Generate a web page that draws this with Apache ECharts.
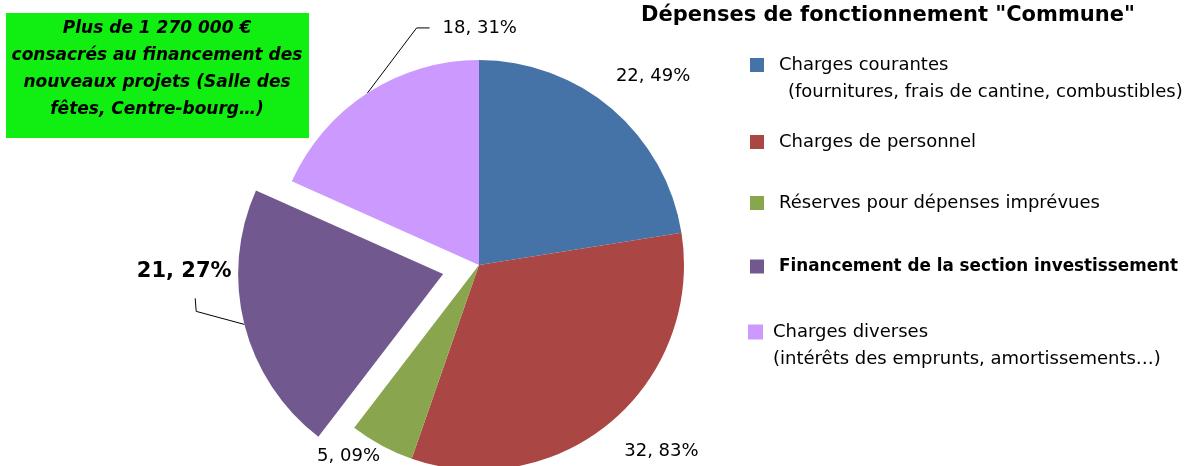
<!DOCTYPE html>
<html>
<head>
<meta charset="utf-8">
<script src="https://cdn.jsdelivr.net/npm/echarts@6/dist/echarts.min.js"></script>
<style>
  html, body { margin: 0; padding: 0; background: #fff; }
  #main { width: 1198px; height: 466px; }
</style>
</head>
<body>
<div id="main"></div>
<script>
const categories = [
  'Charges courantes',
  'Charges de personnel',
  'Réserves pour dépenses imprévues',
  'Financement de la section investissement',
  'Charges diverses'
];
const values = [22.49, 32.83, 5.09, 21.27, 18.31];
const colors = ['#4572A7', '#AA4643', '#89A54E', '#71588F', '#CC99FF'];
const subLines = ['(fournitures, frais de cantine, combustibles)', '', '', '', '(intérêts des emprunts, amortissements…)'];
const legendTops = [56, 133, 194, 258, 323];
// nudges for the slice labels
const labelShift = [[-21, -24], [-11, 20], [21, 0], [11, -56], [173, -55]];

const font = "'Comic Sans MS', 'DejaVu Sans', sans-serif";

const myChart = echarts.init(document.getElementById('main'));

const legends = categories.map((name, i) => ({
  data: [name],
  orient: 'vertical',
  left: i === 4 ? 748 : 750,
  top: legendTops[i],
  padding: 0,
  icon: 'rect',
  itemWidth: i === 4 ? 15 : 14,
  itemHeight: i === 4 ? 15 : 14,
  itemGap: 0,
  selectedMode: false,
  textStyle: {
    fontFamily: font,
    fontSize: i === 3 ? 16.8 : 18,
    color: '#000',
    fontWeight: i === 3 ? 'bold' : 'normal',
    padding: [0, 0, 0, i === 4 ? 5 : 10]
  }
}));

const subTexts = subLines.map((t, i) => t ? {
  type: 'text',
  left: i === 0 ? 788 : 773,
  top: legendTops[i] + 27,
  style: { text: t, font: '18px ' + font, fill: '#000' }
} : null).filter(Boolean);

function layoutLabel(p) {
  const s = labelShift[p.dataIndex];
  const out = { dx: s[0], dy: s[1] };
  const pts = p.labelLinePoints;
  if (pts && (p.dataIndex === 3 || p.dataIndex === 4)) {
    const r = p.labelRect;
    const left = r.x + s[0];
    const cx = r.x + r.width / 2 + s[0];
    const cy = r.y + r.height / 2 + s[1];
    if (p.dataIndex === 4) {
      out.labelLinePoints = [pts[0], [left - 26, cy], [left - 13, cy]];
    } else {
      out.labelLinePoints = [pts[0], [cx + 12, cy + 40], [cx + 11, cy + 27]];
    }
  }
  return out;
}

myChart.setOption({
  animation: false,
  title: {
    text: 'Dépenses de fonctionnement "Commune"',
    left: 636,
    top: 0,
    textStyle: { fontFamily: font, fontSize: 21, fontWeight: 'bold', color: '#000' }
  },
  legend: legends,
  graphic: [
    {
      type: 'group',
      left: 6,
      top: 13,
      children: [
        { type: 'rect', shape: { x: 0, y: 0, width: 303, height: 125 }, style: { fill: '#11EE11' } },
        {
          type: 'text',
          x: 151,
          y: 2,
          style: {
            text: 'Plus de 1 270 000 €\nconsacrés au financement des\nnouveaux projets (Salle des\nfêtes, Centre-bourg…)',
            font: 'italic bold 17px ' + font,
            fill: '#000',
            align: 'center',
            lineHeight: 27
          }
        }
      ]
    }
  ].concat(subTexts),
  series: [
    {
      type: 'pie',
      center: [479, 265],
      radius: 205,
      startAngle: 90,
      clockwise: true,
      selectedMode: 'single',
      selectedOffset: 37,
      label: {
        show: true,
        position: 'outside',
        fontFamily: font,
        fontSize: 18,
        color: '#000',
        formatter: p => p.value.toFixed(2).replace('.', ', ') + '%'
      },
      labelLine: { show: false, length: 12, length2: 12, lineStyle: { color: '#000', width: 1 } },
      labelLayout: layoutLabel,
      data: categories.map((name, i) => ({
        name: name,
        value: values[i],
        selected: i === 3,
        itemStyle: { color: colors[i] },
        label: i === 3 ? { fontWeight: 'bold', fontSize: 21 } : undefined,
        labelLine: (i === 3 || i === 4) ? { show: true } : undefined
      }))
    }
  ]
});
</script>
</body>
</html>
